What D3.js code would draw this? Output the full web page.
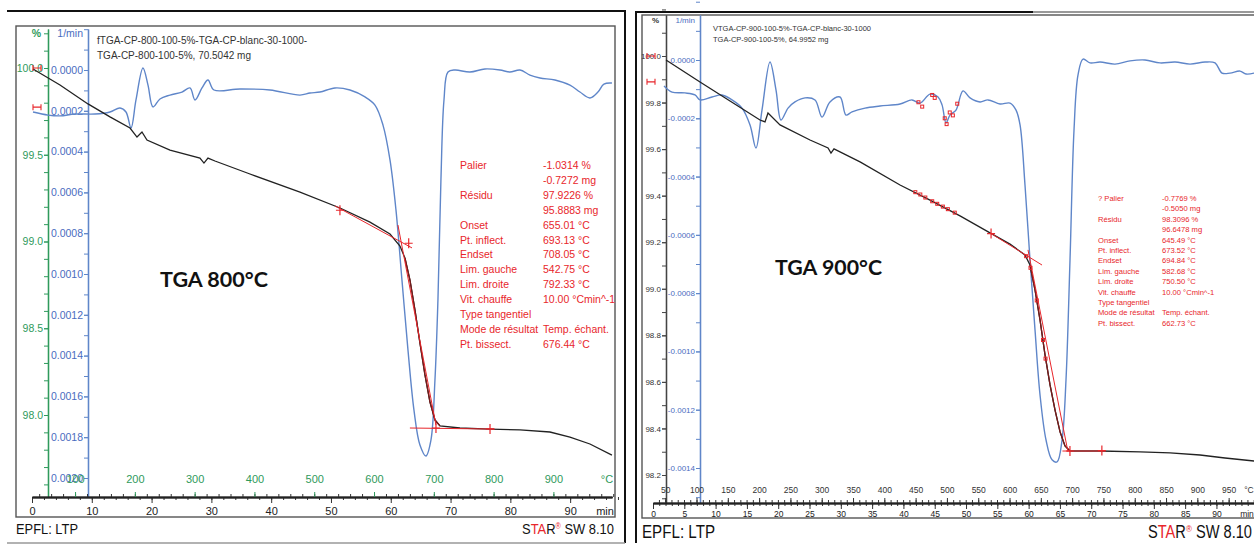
<!DOCTYPE html>
<html>
<head>
<meta charset="utf-8">
<script src="https://cdn.jsdelivr.net/npm/d3@7"></script>
<style>
  body { margin: 0; background: #fff; }
  svg { display: block; font-family: "Liberation Sans", Arial, sans-serif; }
</style>
</head>
<body>
<svg id="chart" width="1254" height="544"></svg>
<script>
// ---- TGA 800 °C run : time (min) vs mass (%) and DTG (1/min)
const tga800 = [[0.17,99.994],[4.68,99.902],[9.36,99.793],[13.04,99.718],[16.39,99.654],[17.56,99.602],[18.39,99.631],[19.23,99.585],
  [23.08,99.527],[28.09,99.481],[28.76,99.452],[29.43,99.481],[30.60,99.464],[36.45,99.389],[44.82,99.285],[51.51,99.193],
  [56.52,99.112],[59.87,99.043],[61.54,98.974],[62.37,98.905],[63.21,98.778],[64.05,98.605],[64.88,98.415],[65.72,98.231],
  [66.56,98.075],[67.39,97.971],[68.23,97.937],[71.57,97.925],[76.59,97.919],[81.61,97.914],[86.62,97.902],[89.97,97.873],
  [93.31,97.833],[96.99,97.769]];
const dtg800 = [[0.17,-0.000206],[2.68,-0.000221],[4.68,-0.000225],[7.19,-0.000216],[10.54,-0.000216],[13.04,-0.000206],
  [14.72,-0.000186],[15.72,-0.000206],[16.56,-0.000284],[17.39,-0.000147],[18.56,0.000010],[19.40,-0.000074],[20.23,-0.000181],
  [21.40,-0.000142],[23.08,-0.000123],[25.08,-0.000108],[26.42,-0.000088],[27.26,-0.000147],[28.43,-0.000088],[29.43,-0.000049],
  [30.43,-0.000098],[34.78,-0.000093],[39.80,-0.000098],[44.82,-0.000123],[46.49,-0.000113],[48.16,-0.000108],[50.67,-0.000088],
  [53.18,-0.000098],[55.69,-0.000132],[57.36,-0.000172],[58.70,-0.000270],[59.87,-0.000441],[60.87,-0.000686],[61.87,-0.001029],
  [62.88,-0.001373],[63.88,-0.001667],[64.88,-0.001838],[65.89,-0.001892],[66.72,-0.001814],[67.39,-0.001520],[67.89,-0.001127],
  [68.39,-0.000539],[68.90,-0.000147],[69.57,-0.000010],[70.74,0],[73.24,-0.000010],[75.75,0.000005],[78.26,0],[79.93,-0.000010],
  [81.61,0],[83.28,-0.000025],[84.95,-0.000039],[87.46,-0.000049],[89.97,-0.000074],[91.64,-0.000108],[93.31,-0.000137],
  [94.65,-0.000108],[95.65,-0.000069],[96.99,-0.000064]];
const tangents800 = [[[50.67,99.205],[63.55,98.963]], [[61.2,99.095],[67.56,97.942]], [[63.2,97.925],[77.4,97.919]]];
const crosses800 = [[51.5,99.18],[63.0,98.99],[67.56,97.925],[76.6,97.92]];

// ---- TGA 900 °C run
const tga900 = [[2.08,99.983],[7.51,99.888],[12.30,99.807],[17.09,99.725],[17.89,99.717],[18.37,99.755],[20.29,99.704],
  [25.08,99.639],[27.96,99.605],[28.43,99.583],[28.91,99.601],[33.07,99.545],[39.46,99.446],[44.25,99.381],[49.04,99.313],
  [53.83,99.240],[57.03,99.192],[59.42,99.145],[60.22,99.102],[61.02,98.995],[61.82,98.866],[62.62,98.716],[63.42,98.587],
  [64.22,98.479],[65.02,98.385],[65.81,98.325],[66.61,98.303],[71.41,98.303],[77.80,98.299],[82.59,98.295],[87.38,98.286],
  [91.37,98.273],[96.01,98.260]];
const dtg900 = [[1.76,-0.000089],[3.04,-0.000110],[5.11,-0.000113],[6.71,-0.000120],[7.51,-0.000137],[9.42,-0.000127],
  [11.02,-0.000120],[12.62,-0.000137],[14.22,-0.000165],[15.50,-0.000223],[16.45,-0.000302],[17.41,-0.000172],[18.69,-0.000007],
  [19.65,-0.000103],[20.45,-0.000206],[21.57,-0.000165],[22.68,-0.000144],[24.28,-0.000130],[25.88,-0.000137],[27.00,-0.000196],
  [28.27,-0.000144],[29.87,-0.000127],[30.83,-0.000189],[31.79,-0.000178],[33.87,-0.000165],[36.26,-0.000158],[39.46,-0.000151],
  [41.37,-0.000137],[42.65,-0.000148],[44.25,-0.000117],[45.53,-0.000127],[46.17,-0.000154],[46.81,-0.000216],[47.44,-0.000189],
  [48.40,-0.000172],[49.52,-0.000106],[50.64,-0.000130],[52.24,-0.000144],[53.51,-0.000137],[55.43,-0.000151],[57.03,-0.000148],
  [57.99,-0.000172],[58.63,-0.000223],[59.42,-0.000429],[60.22,-0.000686],[61.02,-0.000926],[61.82,-0.001149],[62.78,-0.001304],
  [63.74,-0.001372],[64.54,-0.001379],[65.34,-0.001304],[65.97,-0.001098],[66.61,-0.000686],[67.25,-0.000240],[67.89,-0.000051],
  [68.69,0.000003],[69.81,-0.000010],[71.41,-0.000007],[73.80,-0.000014],[76.20,-0.000003],[78.59,0],[80.99,-0.000010],
  [83.39,-0.000007],[85.78,-0.000014],[88.18,-0.000007],[89.78,-0.000010],[90.89,-0.000045],[92.17,-0.000045],[93.77,-0.000038],
  [94.73,-0.000048],[96.01,-0.000045]];
const tangents900 = [[[53.83,99.240],[62.14,99.102]], [[59.9,99.167],[66.29,98.299]], [[65.4,98.303],[72.3,98.303]]];
const crosses900 = [[66.6,98.303],[71.7,98.305],[54.0,99.237]];
const tgaMarks900 = [[41.9,99.415],[42.7,99.405],[43.5,99.392],[44.6,99.376],[45.4,99.365],[46.3,99.353],[47.1,99.342],
  [48.2,99.327],[59.6,99.14],[60.3,99.09],[61.3,98.95],[62.3,98.78],[62.7,98.70]];
const dtgMarks900 = [[42.4,-0.000145],[43.0,-0.00016],[44.6,-0.00012],[45.0,-0.00013],[46.6,-0.0002],[46.9,-0.00022],
  [47.4,-0.00018],[47.9,-0.00019],[48.6,-0.00015]];

// ---- axis ticks
const pctLabels800 = [100.0, 99.5, 99.0, 98.5, 98.0];
const dtgLabels800 = [0, -0.0002, -0.0004, -0.0006, -0.0008, -0.0010, -0.0012, -0.0014, -0.0016, -0.0018, -0.0020];
const timeLabels800 = [0, 10, 20, 30, 40, 50, 60, 70, 80, 90];
const tempLabels800 = [100, 200, 300, 400, 500, 600, 700, 800, 900];
const pctLabels900 = [100.0, 99.8, 99.6, 99.4, 99.2, 99.0, 98.8, 98.6, 98.4, 98.2];
const dtgLabels900 = [0, -0.0002, -0.0004, -0.0006, -0.0008, -0.0010, -0.0012, -0.0014];
const timeLabels900 = [0, 5, 10, 15, 20, 25, 30, 35, 40, 45, 50, 55, 60, 65, 70, 75, 80, 85, 90];
const tempLabels900 = [50, 100, 150, 200, 250, 300, 350, 400, 450, 500, 550, 600, 650, 700, 750, 800, 850, 900, 950];

// ---- result tables
const resultLabels = ["Palier", "", "Résidu", "", "Onset", "Pt. inflect.", "Endset", "Lim. gauche", "Lim. droite",
  "Vit. chauffe", "Type tangentiel", "Mode de résultat", "Pt. bissect."];
const resultValues800 = ["-1.0314 %", "-0.7272 mg", "97.9226 %", "95.8883 mg", "655.01 °C", "693.13 °C", "708.05 °C",
  "542.75 °C", "792.33 °C", "10.00 °Cmin^-1", "", "Temp. échant.", "676.44 °C"];
const resultValues900 = ["-0.7769 %", "-0.5050 mg", "98.3096 %", "96.6478 mg", "645.49 °C", "673.52 °C", "694.84 °C",
  "582.68 °C", "750.50 °C", "10.00 °Cmin^-1", "", "Temp. échant.", "662.73 °C"];

const BLUE = "#5f86c9", GREEN = "#2f9a5c", RED = "#e8262b", DARK = "#222";
const svg = d3.select("#chart");

function seq(a, b, step) {
  const out = [];
  for (let v = a; v <= b + step / 2; v += step) out.push(+v.toFixed(6));
  return out;
}

// vertical axis drawn with d3.axisLeft on a copy of the scale restricted to [top, bottom]
function vAxis(g, scale, x, top, bottom, majors, minorStep, fmt, lineColor, textColor, fs, majLen, minLen) {
  const s = scale.copy().domain([scale.invert(top), scale.invert(bottom)]).range([top, bottom]);
  const dom = s.domain();
  const lo = Math.min(...dom), hi = Math.max(...dom);
  const minors = seq(Math.ceil(lo / minorStep) * minorStep, hi, minorStep);
  const a1 = g.append("g").attr("transform", `translate(${x},0)`)
    .call(d3.axisLeft(s).tickValues(minors).tickSize(minLen).tickSizeOuter(0).tickFormat(""));
  const a2 = g.append("g").attr("transform", `translate(${x},0)`)
    .call(d3.axisLeft(s).tickValues(majors).tickSize(majLen).tickSizeOuter(0).tickFormat(fmt).tickPadding(1));
  [a1, a2].forEach(a => {
    a.select(".domain").attr("stroke", lineColor).attr("stroke-width", 1.3);
    a.selectAll(".tick line").attr("stroke", lineColor);
  });
  a2.selectAll(".tick text").attr("fill", textColor).attr("font-size", fs)
    .attr("font-family", "Liberation Sans, Arial, sans-serif");
}

function drawPanel(p) {
  const g = svg.append("g");
  // frames
  g.append("rect").attr("x", p.box[0]).attr("y", p.box[1]).attr("width", p.box[2] - p.box[0])
    .attr("height", p.box[3] - p.box[1]).attr("fill", "none").attr("stroke", "#555").attr("stroke-width", 1.4);

  const x = p.x;
  const tempScale = x.copy().domain(x.domain().map(t => p.tempOffset + 10 * t));

  // y axes
  vAxis(g, p.yPct, p.pctX, p.axisTop, p.axisY, p.pctLabels, 0.1, d3.format(".1f"),
    p.pctColor, p.pctText, p.fs, 4, 4);
  vAxis(g, p.yDtg, p.dtgX, p.axisTop, p.axisY, p.dtgLabels, 0.0001, p.dtgFmt,
    BLUE, p.dtgText, p.fs, 4, 4);

  // bottom axis: time below, temperature above
  const ax = g.append("g").attr("transform", `translate(0,${p.axisY})`);
  const tMinor = seq(0, x.domain()[1], p.timeMinor);
  ax.append("g").call(d3.axisBottom(x).tickValues(tMinor).tickSize(3).tickSizeOuter(0).tickFormat(""));
  ax.append("g").attr("class", "time")
    .call(d3.axisBottom(x).tickValues(p.timeLabels).tickSize(6).tickSizeOuter(0).tickPadding(p.timePad));
  const T = tempScale.domain();
  const tempMinor = seq(Math.ceil(T[0] / p.tempMinor) * p.tempMinor, T[1], p.tempMinor);
  ax.append("g").call(d3.axisTop(tempScale).tickValues(tempMinor).tickSize(3).tickSizeOuter(0).tickFormat(""));
  ax.append("g").attr("class", "temp")
    .call(d3.axisTop(tempScale).tickValues(p.tempLabels).tickSize(5).tickSizeOuter(0).tickPadding(p.tempPad));
  ax.selectAll(".domain").attr("stroke", "#222").attr("stroke-width", 1.3);
  ax.selectAll(".tick line").attr("stroke", "#333");
  ax.selectAll(".temp .tick line").attr("stroke", p.tempTickColor);
  ax.selectAll(".time .tick text").attr("font-size", p.fsBottom).attr("fill", "#222")
    .attr("font-family", "Liberation Sans, Arial, sans-serif");
  ax.selectAll(".temp .tick text").attr("font-size", p.fsBottom).attr("fill", p.tempText)
    .attr("font-family", "Liberation Sans, Arial, sans-serif");
  ax.append("text").attr("x", x(x.domain()[1]) - 7).attr("y", p.timePad + 6 + p.fsBottom * 0.71)
    .attr("font-size", p.fsBottom).attr("fill", "#222").attr("text-anchor", "middle").text("min");
  ax.append("text").attr("x", x(x.domain()[1]) - 5).attr("y", -(p.tempPad + 5))
    .attr("font-size", p.fsBottom).attr("fill", p.tempText).attr("text-anchor", "middle").text("°C");

  // unit headers
  g.append("text").attr("x", p.pctX - 7).attr("y", p.axisTop + 8).attr("font-size", p.fs)
    .attr("fill", p.pctText).attr("text-anchor", "end").attr("font-weight", "bold").text("%");
  g.append("text").attr("x", p.dtgX - 5).attr("y", p.axisTop + 8).attr("font-size", p.fs)
    .attr("fill", p.dtgText).attr("text-anchor", "end").text("1/min");

  // curves
  const dtgLine = d3.line().x(d => x(d[0])).y(d => p.yDtg(d[1])).curve(d3.curveCatmullRom.alpha(0.5));
  const pctLine = d3.line().x(d => x(d[0])).y(d => p.yPct(d[1]));
  g.append("path").datum(p.dtg).attr("d", dtgLine).attr("fill", "none").attr("stroke", BLUE).attr("stroke-width", 1.4);
  g.append("path").datum(p.tga).attr("d", pctLine).attr("fill", "none").attr("stroke", DARK).attr("stroke-width", 1.3);
  g.append("path").datum(p.tga.filter(d => d[0] >= p.stepRange[0] && d[0] <= p.stepRange[1]))
    .attr("d", pctLine).attr("fill", "none").attr("stroke", "#7a1a1a").attr("stroke-width", 1.3);

  // evaluation tangents and markers
  g.selectAll(".tan").data(p.tangents).join("path").attr("d", pctLine)
    .attr("fill", "none").attr("stroke", RED).attr("stroke-width", 1);
  g.selectAll(".cross").data(p.crosses).join("path")
    .attr("d", d => { const cx = x(d[0]), cy = p.yPct(d[1]);
      return `M${cx - 4},${cy}H${cx + 4}M${cx},${cy - 5}V${cy + 5}`; })
    .attr("stroke", RED).attr("stroke-width", 1.2).attr("fill", "none");
  g.selectAll(".mt").data(p.tgaMarks || []).join("rect")
    .attr("x", d => x(d[0]) - 1.5).attr("y", d => p.yPct(d[1]) - 1.5).attr("width", 3).attr("height", 3)
    .attr("fill", "none").attr("stroke", RED).attr("stroke-width", 1);
  g.selectAll(".md").data(p.dtgMarks || []).join("rect")
    .attr("x", d => x(d[0]) - 1.5).attr("y", d => p.yDtg(d[1]) - 1.5).attr("width", 3).attr("height", 3)
    .attr("fill", "none").attr("stroke", RED).attr("stroke-width", 1);
  // cursor brackets at the start of the curves
  const cy1 = p.yPct(100), cy2 = p.yDtg(p.cursorDtg), cx = p.cursorX;
  g.append("path").attr("d", `M${cx - 4},${cy1 - 3}V${cy1 + 3}M${cx - 4},${cy1}H${cx + 4}M${cx + 4},${cy1 - 3}V${cy1 + 3}` +
    `M${cx - 4},${cy2 - 3}V${cy2 + 3}M${cx - 4},${cy2}H${cx + 4}M${cx + 4},${cy2 - 3}V${cy2 + 3}`)
    .attr("stroke", RED).attr("stroke-width", 1.1).attr("fill", "none");

  // sample title
  const tt = g.append("text").attr("font-size", p.titleFs).attr("fill", "#333");
  tt.append("tspan").attr("x", p.titlePos[0]).attr("y", p.titlePos[1]).text(p.title[0]);
  tt.append("tspan").attr("x", p.titlePos[0]).attr("y", p.titlePos[1] + p.titleFs * 1.5).text(p.title[1]);

  // results
  const res = g.append("g").attr("fill", RED).attr("font-size", p.resFs);
  res.selectAll(".rl").data(resultLabels).join("text")
    .attr("x", p.resX[0]).attr("y", (d, i) => p.resY + i * p.resStep)
    .text((d, i) => (i === 0 ? p.palierPrefix : "") + d);
  res.selectAll(".rv").data(p.values).join("text")
    .attr("x", p.resX[1]).attr("y", (d, i) => p.resY + i * p.resStep).text(d => d);

  // big label
  g.append("text").attr("x", p.bigPos[0]).attr("y", p.bigPos[1]).attr("font-family", "Lato, sans-serif")
    .attr("font-weight", "bold").attr("font-size", 20).attr("fill", "#111")
    .attr("textLength", p.bigLen).attr("lengthAdjust", "spacingAndGlyphs").text(p.bigText);

  // footer
  g.append("text").attr("x", p.box[0]).attr("y", p.footY).attr("font-size", p.footFs).attr("fill", "#111")
    .attr("textLength", p.footLen).attr("lengthAdjust", "spacingAndGlyphs").text("EPFL: LTP");
  const st = g.append("text").attr("x", p.starX).attr("y", p.footY).attr("font-size", p.footFs).attr("fill", "#111")
    .attr("textLength", p.starLen).attr("lengthAdjust", "spacingAndGlyphs");
  st.append("tspan").text("S");
  st.append("tspan").attr("fill", RED).text("TA");
  st.append("tspan").text("R");
  st.append("tspan").attr("fill", RED).attr("font-size", p.footFs * 0.55).attr("dy", -p.footFs * 0.35).text("®");
  st.append("tspan").attr("dy", p.footFs * 0.35).text(" SW 8.10");
}

// outer frames of the two scanned pictures
svg.append("path").attr("d", "M7,11H625V543").attr("fill", "none").attr("stroke", "#111").attr("stroke-width", 2);
svg.append("path").attr("d", "M7,543H625").attr("fill", "none").attr("stroke", "#999").attr("stroke-width", 1.5);
svg.append("path").attr("d", "M636,543V12H1033").attr("fill", "none").attr("stroke", "#111").attr("stroke-width", 2);
svg.append("path").attr("d", "M1033,12H1254").attr("fill", "none").attr("stroke", "#999").attr("stroke-width", 2);

drawPanel({
  box: [16, 26, 615, 517],
  x: d3.scaleLinear().domain([0, 97]).range([32, 612]),
  yPct: d3.scaleLinear().domain([100, 98]).range([68, 415]),
  yDtg: d3.scaleLinear().domain([0, -0.002]).range([70, 478]),
  pctX: 48, dtgX: 88, axisTop: 29, axisY: 497,
  pctLabels: pctLabels800, dtgLabels: dtgLabels800,
  dtgFmt: v => Math.abs(v).toFixed(4),
  pctColor: GREEN, pctText: GREEN, dtgText: "#4a6cc0", fs: 10.5,
  timeLabels: timeLabels800, tempLabels: tempLabels800, timeMinor: 2, tempMinor: 20,
  tempOffset: 28, timePad: 4, tempPad: 9, fsBottom: 11, tempText: GREEN, tempTickColor: GREEN,
  tga: tga800, dtg: dtg800, stepRange: [62, 68.3], tangents: tangents800, crosses: crosses800,
  cursorX: 37, cursorDtg: -0.000182,
  title: ["fTGA-CP-800-100-5%-TGA-CP-blanc-30-1000-", "TGA-CP-800-100-5%, 70.5042 mg"],
  titlePos: [97, 44], titleFs: 10,
  resX: [460, 543], resY: 169, resStep: 14.9, resFs: 10.5, values: resultValues800, palierPrefix: "",
  bigPos: [160, 287], bigLen: 108, bigText: "TGA 800°C",
  footY: 534, footFs: 15, footLen: 62, starX: 522, starLen: 92
});

drawPanel({
  box: [642, 15, 1262, 518],
  x: d3.scaleLinear().domain([0, 96]).range([653, 1254]),
  yPct: d3.scaleLinear().domain([100, 98.2]).range([56, 475]),
  yDtg: d3.scaleLinear().domain([0, -0.0014]).range([60, 468]),
  pctX: 666, dtgX: 700, axisTop: 15, axisY: 503,
  pctLabels: pctLabels900, dtgLabels: dtgLabels900,
  dtgFmt: v => v.toFixed(4),
  pctColor: "#444", pctText: "#333", dtgText: "#4a6cc0", fs: 8,
  timeLabels: timeLabels900, tempLabels: tempLabels900, timeMinor: 1, tempMinor: 10,
  tempOffset: 30.5, timePad: 2, tempPad: 5, fsBottom: 8.5, tempText: "#333", tempTickColor: "#333",
  tga: tga900, dtg: dtg900, stepRange: [60, 66.7], tangents: tangents900, crosses: crosses900,
  tgaMarks: tgaMarks900, dtgMarks: dtgMarks900,
  cursorX: 651, cursorDtg: -0.000075,
  title: ["VTGA-CP-900-100-5%-TGA-CP-blanc-30-1000", "TGA-CP-900-100-5%, 64.9952 mg"],
  titlePos: [713, 31], titleFs: 7.5,
  resX: [1098, 1162], resY: 201, resStep: 10.4, resFs: 7.6, values: resultValues900, palierPrefix: "? ",
  bigPos: [775, 275], bigLen: 107, bigText: "TGA 900°C",
  footY: 538, footFs: 18, footLen: 73, starX: 1148, starLen: 104
});
</script>
</body>
</html>
